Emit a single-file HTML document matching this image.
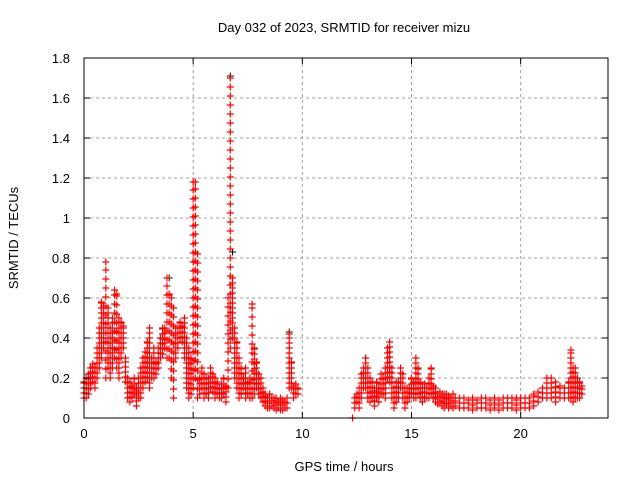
<!DOCTYPE html>
<html><head><meta charset="utf-8"><style>
body{margin:0;background:#fff}
svg{display:block;font-family:"Liberation Sans",sans-serif;font-size:13px}
</style></head><body>
<svg id="c" width="640" height="480">
<rect width="640" height="480" fill="#fff"/>
<text x="344" y="32" text-anchor="middle">Day 032 of 2023, SRMTID for receiver mizu</text>
<text x="344" y="471" text-anchor="middle">GPS time / hours</text>
<text transform="translate(18,238) rotate(-90)" text-anchor="middle">SRMTID / TECUs</text>
<g id="grid"></g><g id="marks"></g><g id="axes"></g>
</svg>
<script>
const times=[0.0,0.1,0.2,0.3,0.4,0.5,0.6,0.7,0.8,0.9,1.0,1.1,1.2,1.3,1.4,1.5,1.6,1.7,1.8,1.9,2.0,2.1,2.2,2.3,2.4,2.5,2.6,2.7,2.8,2.9,3.0,3.1,3.2,3.3,3.4,3.5,3.6,3.7,3.8,3.9,4.0,4.1,4.2,4.3,4.4,4.5,4.6,4.7,4.8,4.9,5.0,5.1,5.2,5.3,5.4,5.5,5.6,5.7,5.8,5.9,6.0,6.1,6.2,6.3,6.4,6.5,6.6,6.7,6.8,6.9,7.0,7.1,7.2,7.3,7.4,7.5,7.6,7.7,7.8,7.9,8.0,8.1,8.2,8.3,8.4,8.5,8.6,8.7,8.8,8.9,9.0,9.1,9.2,9.3,9.4,9.5,9.6,9.7,9.8,
12.3,12.4,12.5,12.6,12.7,12.8,12.9,13.0,13.1,13.2,13.3,13.4,13.5,13.6,13.7,13.8,13.9,14.0,14.1,14.2,14.3,14.4,14.5,14.6,14.7,14.8,14.9,15.0,15.1,15.2,15.3,15.4,15.5,15.6,15.7,15.8,15.9,16.0,
16.1,16.2,16.3,16.4,16.5,16.6,16.7,16.8,16.9,17.0,
17.2,17.4,17.6,17.8,18.0,18.2,18.4,18.6,18.8,19.0,19.2,19.4,19.6,19.8,20.0,
20.2,20.4,20.6,20.8,21.0,21.2,21.4,21.6,21.8,22.0,22.2,22.3,22.4,22.5,22.6,22.7,22.8];
const lows=[0.10,0.10,0.12,0.15,0.18,0.15,0.20,0.25,0.30,0.35,0.20,0.25,0.20,0.25,0.30,0.25,0.20,0.30,0.35,0.18,0.10,0.08,0.10,0.12,0.06,0.10,0.10,0.15,0.18,0.20,0.15,0.20,0.20,0.22,0.25,0.30,0.32,0.35,0.30,0.30,0.20,0.10,0.30,0.35,0.40,0.38,0.30,0.15,0.10,0.12,0.15,0.20,0.10,0.12,0.15,0.10,0.12,0.10,0.15,0.13,0.10,0.12,0.10,0.10,0.12,0.08,0.15,0.35,0.40,0.20,0.15,0.10,0.12,0.15,0.10,0.12,0.10,0.10,0.12,0.15,0.12,0.10,0.08,0.06,0.05,0.05,0.06,0.05,0.04,0.05,0.04,0.04,0.05,0.05,0.15,0.15,0.10,0.12,0.12,
0.00,0.05,0.08,0.05,0.10,0.15,0.15,0.10,0.08,0.10,0.06,0.10,0.08,0.12,0.12,0.10,0.20,0.18,0.10,0.05,0.08,0.10,0.15,0.10,0.05,0.08,0.10,0.12,0.10,0.10,0.12,0.10,0.08,0.10,0.10,0.10,0.12,0.10,
0.08,0.07,0.08,0.06,0.05,0.07,0.05,0.06,0.05,0.06,
0.05,0.05,0.05,0.04,0.05,0.05,0.05,0.04,0.05,0.04,0.05,0.05,0.05,0.04,0.05,
0.05,0.05,0.06,0.08,0.10,0.10,0.10,0.08,0.10,0.10,0.10,0.10,0.08,0.10,0.10,0.10,0.12];
const highs=[0.18,0.20,0.22,0.25,0.27,0.25,0.35,0.45,0.58,0.56,0.78,0.55,0.45,0.50,0.64,0.62,0.50,0.48,0.46,0.30,0.20,0.18,0.16,0.20,0.15,0.20,0.25,0.30,0.33,0.38,0.45,0.30,0.35,0.28,0.35,0.40,0.45,0.45,0.70,0.62,0.60,0.55,0.45,0.45,0.48,0.46,0.50,0.40,0.35,0.30,1.18,1.18,0.82,0.20,0.25,0.22,0.20,0.20,0.25,0.22,0.20,0.18,0.15,0.17,0.20,0.16,0.60,1.70,0.70,0.45,0.38,0.30,0.25,0.20,0.25,0.18,0.20,0.57,0.35,0.28,0.22,0.20,0.15,0.12,0.10,0.12,0.10,0.10,0.10,0.08,0.10,0.09,0.08,0.10,0.42,0.28,0.16,0.17,0.15,
0.00,0.10,0.12,0.15,0.22,0.25,0.30,0.25,0.20,0.18,0.15,0.18,0.15,0.22,0.20,0.25,0.35,0.38,0.25,0.15,0.18,0.18,0.25,0.22,0.15,0.15,0.15,0.20,0.18,0.30,0.25,0.18,0.15,0.17,0.15,0.20,0.25,0.16,
0.15,0.12,0.13,0.12,0.12,0.12,0.11,0.10,0.12,0.10,
0.10,0.10,0.09,0.10,0.09,0.10,0.10,0.09,0.10,0.09,0.10,0.10,0.10,0.10,0.10,
0.10,0.10,0.12,0.13,0.15,0.20,0.20,0.18,0.16,0.15,0.18,0.34,0.25,0.25,0.20,0.18,0.16];
const blackTimes=[0.8,1.1,3.9,6.7,6.8,9.4,12.9,22.3];
const blackVals=[0.55,0.50,0.70,1.71,0.83,0.43,0.30,0.30];
const xTicks=[0,5,10,15,20];
const yTicks=[0,0.2,0.4,0.6,0.8,1,1.2,1.4,1.6,1.8];
const yLabels=["0","0.2","0.4","0.6","0.8","1","1.2","1.4","1.6","1.8"];
const L=84,R=608,T=58,B=418,XMAX=24,YMAX=1.8;
const xs=t=>L+t/XMAX*(R-L), ys=v=>B-v/YMAX*(B-T);
const NS="http://www.w3.org/2000/svg";
const mk=(p,tag,a)=>{const e=document.createElementNS(NS,tag);for(const k in a)e.setAttribute(k,a[k]);p.appendChild(e);return e;};
const grid=document.getElementById('grid'),marks=document.getElementById('marks'),axes=document.getElementById('axes');
yTicks.forEach((v,i)=>{const y=ys(v);
 if(i>0&&i<yTicks.length-1){const g=mk(grid,'line',{x1:L,x2:R,y1:y,y2:y,stroke:'#a0a0a0','stroke-dasharray':'3,3'});
 
 }
 const tk=mk(axes,'path',{d:`M${L},${y}h6M${R},${y}h-6`,stroke:'#000'});
 
 
 const tx=mk(axes,'text',{x:70,y:y+5,'text-anchor':'end'});tx.textContent=yLabels[i];
 
 });
xTicks.forEach(t=>{const x=xs(t);
 if(t>0){const g=mk(grid,'line',{x1:x,x2:x,y1:T,y2:B,stroke:'#a0a0a0','stroke-dasharray':'3,3'});
 
 }
 const tk=mk(axes,'path',{d:`M${x},${B}v-6M${x},${T}v6`,stroke:'#000'});
 
 
 const tx=mk(axes,'text',{x:x,y:B+20,'text-anchor':'middle'});tx.textContent=String(t);
 
 });
const frame=mk(axes,'rect',{x:L,y:T,width:R-L,height:B-T,fill:'none',stroke:'#000'});


const plus=(x,y)=>`M${x-3.5},${y}h7M${x},${y-3.5}v7`;
blackTimes.forEach((t,i)=>{const p=mk(marks,'path',{d:plus(xs(t),ys(blackVals[i])),stroke:'#000','stroke-width':1,fill:'none'});
 
 });
times.forEach((t,i)=>{const x=xs(t),y0=ys(lows[i]),y1=ys(highs[i]);let d='';
 const step=(y0-y1)>60?9:5;
 for(let y=y0;y>=y1-0.1;y-=step)d+=plus(x,y);
 d+=plus(x,y1);
 const p=mk(marks,'path',{d:d,stroke:'#ff0000','stroke-width':1.2,fill:'none'});
 
 });
</script>
</body></html>
